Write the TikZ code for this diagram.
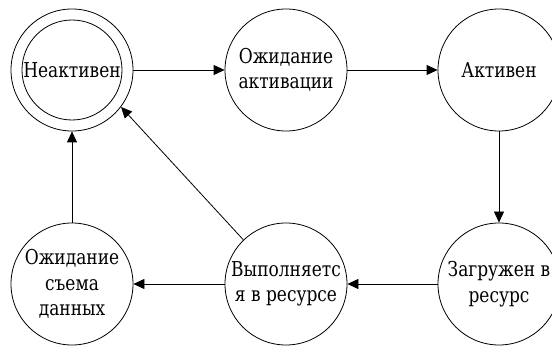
\documentclass[tikz,border=0pt]{standalone}
\usepackage{fontspec}
\setmainfont{DejaVu Serif}[FakeStretch=0.83]
\usetikzlibrary{arrows.meta}
\begin{document}
\begin{tikzpicture}[x=1pt, y=-1pt, line width=0.8pt,
  font=\fontsize{20.5}{25.5}\selectfont,
  state/.style={shape=circle, draw=black, minimum size=122pt, inner sep=0pt, align=center},
  >={Triangle[length=11pt, width=10pt]}]
\useasboundingbox (0,0) rectangle (552,347);
\node[state] (inactive) at (72,70) {Неактивен};
\node[shape=circle, draw=black, minimum size=100pt] (inactiveinner) at (72,70) {};
\node[state] (wait) at (286,70) {Ожидание\\активации};
\node[state] (active) at (499,70) {Активен};
\node[state] (loaded) at (499,284) {Загружен в\\ресурс};
\node[state] (exec) at (286,284) {Выполняетс\\я в ресурсе};
\node[state] (datawait) at (72,284) {Ожидание\\съема\\данных};
\draw[->] (inactive) -- (wait);
\draw[->] (wait) -- (active);
\draw[->] (active) -- (loaded);
\draw[->] (loaded) -- (exec);
\draw[->] (exec) -- (datawait);
\draw[->] (datawait) -- (inactive);
\draw[->] (exec.134) -- (inactive.-37);
\end{tikzpicture}
\end{document}
